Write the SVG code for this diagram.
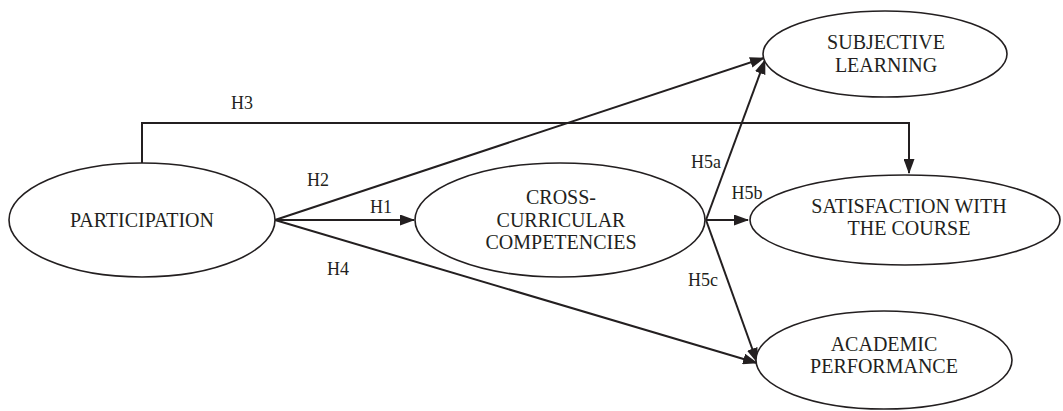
<svg xmlns="http://www.w3.org/2000/svg" width="1063" height="411" viewBox="0 0 1063 411">
<style>
.node ellipse{fill:#fff;stroke:#231f20;stroke-width:1.6}
text{font-family:"Liberation Serif","Times New Roman",serif;fill:#231f20;font-size:20px;text-anchor:middle}
.lbl{font-size:18px}
.conn line,.conn path{stroke:#231f20;stroke-width:2;fill:none}
</style>
<defs>
<marker id="ah" markerWidth="15" markerHeight="11" refX="14" refY="5.5" orient="auto" markerUnits="userSpaceOnUse">
<path d="M0,0 L15,5.5 L0,11 Z" fill="#231f20"/>
</marker>
</defs>
<rect width="1063" height="411" fill="#fff"/>
<g id="connectors" class="conn">
<path d="M142,163 V123 H909 V173" marker-end="url(#ah)"/>
<line x1="275" y1="220" x2="764" y2="58" marker-end="url(#ah)"/>
<line x1="275" y1="220" x2="414" y2="220" marker-end="url(#ah)"/>
<line x1="275" y1="220" x2="757" y2="363" marker-end="url(#ah)"/>
<line x1="706" y1="220" x2="765" y2="60" marker-end="url(#ah)"/>
<line x1="706" y1="220" x2="748" y2="220" marker-end="url(#ah)"/>
<line x1="706" y1="220" x2="757" y2="362" marker-end="url(#ah)"/>
<text class="lbl" x="242" y="109">H3</text>
<text class="lbl" x="318" y="186">H2</text>
<text class="lbl" x="381" y="213">H1</text>
<text class="lbl" x="338" y="275">H4</text>
<text class="lbl" x="706" y="168">H5a</text>
<text class="lbl" x="747" y="199">H5b</text>
<text class="lbl" x="703" y="286">H5c</text>
</g>
<g id="participation" class="node">
<ellipse cx="142" cy="220" rx="133" ry="57"/>
<text x="142" y="227">PARTICIPATION</text>
</g>
<g id="cross" class="node">
<ellipse cx="560" cy="220" rx="145" ry="57"/>
<text x="561" y="204">CROSS-</text>
<text x="561" y="227">CURRICULAR</text>
<text x="561" y="249">COMPETENCIES</text>
</g>
<g id="subjective" class="node">
<ellipse cx="885" cy="54" rx="122" ry="43"/>
<text x="886" y="49">SUBJECTIVE</text>
<text x="886" y="72">LEARNING</text>
</g>
<g id="satisfaction" class="node">
<ellipse cx="905" cy="220" rx="155" ry="45"/>
<text x="909" y="213">SATISFACTION WITH</text>
<text x="909" y="235">THE COURSE</text>
</g>
<g id="academic" class="node">
<ellipse cx="884" cy="360" rx="128" ry="49"/>
<text x="884" y="351">ACADEMIC</text>
<text x="884" y="373">PERFORMANCE</text>
</g>
</svg>
